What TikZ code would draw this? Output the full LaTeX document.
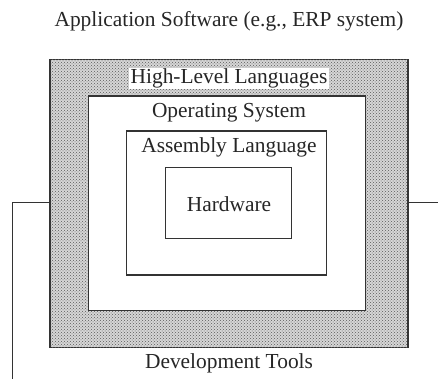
\documentclass[tikz,border=0pt]{standalone}
\usepackage{fontspec}
\setmainfont{Liberation Serif}
\usetikzlibrary{patterns}
\begin{document}
\begin{tikzpicture}[x=1pt,y=-1pt,
  layerbox/.style={draw=black!80, line width=1.1pt, rectangle, inner sep=0pt},
  lbl/.style={font=\fontsize{21.4}{26}\selectfont, text=black!85, anchor=base, inner sep=1.5pt},
  conn/.style={draw=black!80, line width=1pt}]
\useasboundingbox (0,0) rectangle (438,379);
% outer shaded box
\node[layerbox, line width=1.4pt, minimum width=358pt, minimum height=288pt, fill=black!16,
      postaction={pattern=crosshatch dots, pattern color=black!65}] (outer) at (229,203.6) {};
\node[layerbox, fill=white, minimum width=277.7pt, minimum height=214.7pt] (os) at (226.9,203.4) {};
\node[layerbox, minimum width=200.7pt, minimum height=144pt] (asm) at (226.4,203) {};
\node[layerbox, minimum width=126.7pt, minimum height=70.6pt] (hw) at (228.4,203) {};
% labels
\node[lbl] (app) at (229,27) {Application Software (e.g., ERP system)};
\node[lbl, fill=white, inner xsep=2pt, inner ysep=1pt] (hll) at (229,83.5) {High-Level Languages};
\node[lbl] (ostxt) at (229,118) {Operating System};
\node[lbl] (asmtxt) at (229,153) {Assembly Language};
\node[lbl] (hwtxt) at (229,211.5) {Hardware};
\node[lbl] (dev) at (229,368) {Development Tools};
% connectors
\coordinate (lcorner) at (12,202);
\coordinate (lend) at (12,379);
\coordinate (rend) at (438,202);
\draw[conn] (outer.west |- lcorner) -- (lcorner) -- (lend);
\draw[conn] (outer.east |- rend) -- (rend);
\end{tikzpicture}
\end{document}
